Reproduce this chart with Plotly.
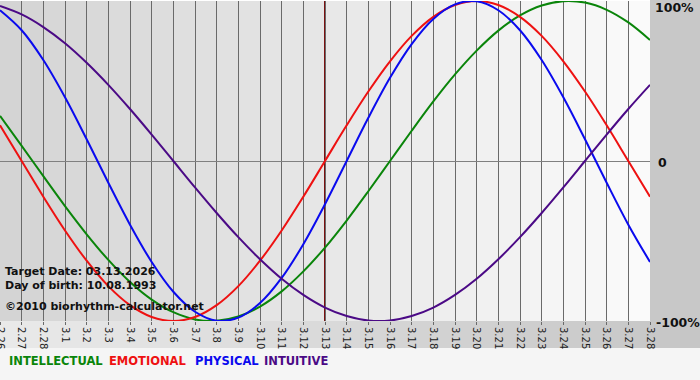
import plotly.graph_objects as go

dates = ["2.26", "2.27", "2.28", "3.1", "3.2", "3.3", "3.4", "3.5", "3.6", "3.7",
         "3.8", "3.9", "3.10", "3.11", "3.12", "3.13", "3.14", "3.15", "3.16", "3.17",
         "3.18", "3.19", "3.20", "3.21", "3.22", "3.23", "3.24", "3.25", "3.26", "3.27", "3.28"]

intellectual = [0.282, 0.095, -0.095, -0.282, -0.458, -0.618, -0.756, -0.866, -0.945, -0.990,
                -0.999, -0.972, -0.910, -0.815, -0.690, -0.541, -0.372, -0.189, 0.000, 0.189,
                0.372, 0.541, 0.690, 0.815, 0.910, 0.972, 0.999, 0.990, 0.945, 0.866, 0.756]
emotional = [0.223, 0.000, -0.223, -0.434, -0.623, -0.782, -0.901, -0.975, -1.000, -0.975,
             -0.901, -0.782, -0.623, -0.434, -0.223, 0.000, 0.223, 0.434, 0.623, 0.782,
             0.901, 0.975, 1.000, 0.975, 0.901, 0.782, 0.623, 0.434, 0.223, 0.000, -0.223]
physical = [0.942, 0.817, 0.631, 0.398, 0.136, -0.136, -0.398, -0.631, -0.817, -0.942,
            -0.998, -0.979, -0.888, -0.731, -0.520, -0.270, 0.000, 0.270, 0.520, 0.731,
            0.888, 0.979, 0.998, 0.942, 0.817, 0.631, 0.398, 0.136, -0.136, -0.398, -0.631]
intuitive = [0.969, 0.916, 0.837, 0.736, 0.614, 0.476, 0.325, 0.165, 0.000, -0.165,
             -0.325, -0.476, -0.614, -0.736, -0.837, -0.916, -0.969, -0.997, -0.997, -0.969,
             -0.916, -0.837, -0.736, -0.614, -0.476, -0.325, -0.165, 0.000, 0.165, 0.325, 0.476]

series_names = ["INTELLECTUAL", "EMOTIONAL", "PHYSICAL", "INTUITIVE"]
series_colors = ["#0a850a", "#ee1111", "#0a0aee", "#4b0a86"]
target_date = "3.13"
target_text = "Target Date: 03.13.2026"
birth_text = "Day of birth: 10.08.1993"
copyright_text = "©2010 biorhythm-calculator.net"
y_labels = ["100%", "0", "-100%"]
y_vals = [1, 0, -1]

W, H = 700, 380
ML, MR, MT, MB = 0, 50, 1, 59
PW = W - ML - MR
PH = H - MT - MB

fig = go.Figure()

for name, vals, col in zip(series_names, [intellectual, emotional, physical, intuitive], series_colors):
    fig.add_trace(go.Scatter(x=dates, y=vals, mode="lines", name=name,
                             line=dict(color=col, width=2, shape="spline", smoothing=1.0),
                             showlegend=False, hoverinfo="skip"))

shapes = []
n = len(dates) - 1
# plot area column shading
for i in range(n):
    c = int(212 + (251 - 212) * (i + 0.5) / n)
    shapes.append(dict(type="rect", xref="x", yref="paper", x0=i, x1=i + 1, y0=0, y1=1,
                       fillcolor=f"rgb({c},{c},{c})", line=dict(width=0), layer="below"))
# right margin
shapes.append(dict(type="rect", xref="paper", yref="paper", x0=1, x1=W / PW, y0=0, y1=1.01,
                   fillcolor="rgb(200,200,200)", line=dict(width=0), layer="below"))
# bottom band gradient
steps = 35
for k in range(steps):
    c = int(234 - (234 - 198) * (k + 0.5) / steps)
    shapes.append(dict(type="rect", xref="paper", yref="paper",
                       x0=k * (W / PW) / steps, x1=(k + 1) * (W / PW) / steps + 0.002,
                       y0=-27 / PH, y1=0, fillcolor=f"rgb({c},{c},{c})",
                       line=dict(width=0), layer="below"))
# legend strip
shapes.append(dict(type="rect", xref="paper", yref="paper", x0=0, x1=W / PW,
                   y0=-MB / PH - 0.01, y1=-27 / PH, fillcolor="rgb(245,245,245)",
                   line=dict(width=0), layer="below"))
# target line
ti = dates.index(target_date)
shapes.append(dict(type="line", xref="x", yref="paper", x0=ti, x1=ti, y0=0, y1=1,
                   line=dict(color="#7a1010", width=2), layer="between"))

annotations = []
def ypx(p):
    return (H - MB - p) / PH

for txt, yp in [(target_text, 271), (birth_text, 285), (copyright_text, 306)]:
    annotations.append(dict(text=f"<b>{txt}</b>", xref="paper", yref="paper", x=0.004, y=ypx(yp),
                            xanchor="left", yanchor="middle", showarrow=False,
                            font=dict(family="DejaVu Sans", size=11, color="#111111")))

for lab, v, xp in zip(y_labels, y_vals, [653, 656, 654]):
    yp = {1: 7, 0: 162, -1: 322}[v]
    annotations.append(dict(text=f"<b>{lab}</b>", xref="paper", yref="paper", x=xp / PW, y=ypx(yp),
                            xanchor="left", yanchor="middle", showarrow=False,
                            font=dict(family="DejaVu Sans", size=12.5, color="#111111")))

for name, col, xp in zip(series_names, series_colors, [7, 107, 193, 262]):
    annotations.append(dict(text=f"<b>{name}</b>", xref="paper", yref="paper", x=xp / PW, y=ypx(361),
                            xanchor="left", yanchor="middle", showarrow=False,
                            font=dict(family="DejaVu Sans", size=11.5, color=col)))

fig.update_layout(
    width=W, height=H,
    margin=dict(l=ML, r=MR, t=MT, b=MB, autoexpand=False),
    paper_bgcolor="white",
    plot_bgcolor="rgba(0,0,0,0)",
    shapes=shapes,
    annotations=annotations,
    xaxis=dict(type="category", range=[0, n], showgrid=True, gridcolor="#6a6a6a", gridwidth=1,
               tickangle=90, ticks="outside", ticklen=3, tickcolor="#6a6a6a",
               tickfont=dict(family="DejaVu Sans", size=10, color="#222222"),
               showline=False, zeroline=False, fixedrange=True, automargin=False),
    yaxis=dict(range=[-1, 1], tickvals=y_vals, showticklabels=False, showgrid=True,
               gridcolor="#808080", gridwidth=1, zeroline=False, showline=False, fixedrange=True,
               automargin=False),
)

fig.write_html("out.html", config={"displayModeBar": False},
               post_script="document.body.style.margin='0px';document.body.style.overflow='hidden';")
